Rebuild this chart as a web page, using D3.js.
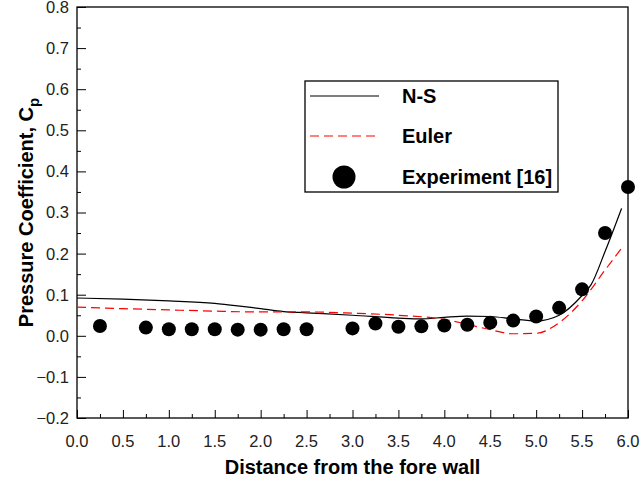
<!DOCTYPE html>
<html>
<head>
<meta charset="utf-8">
<script src="https://cdn.jsdelivr.net/npm/d3@7"></script>
<style>
  body { margin: 0; background: #fff; }
  svg text { font-family: "Liberation Sans", Arial, sans-serif; }
  .tick-label { font-size: 16.5px; fill: #222; }
  .axis-title { font-size: 20px; font-weight: bold; }
  .legend-text { font-size: 20px; font-weight: bold; }
</style>
</head>
<body>
<svg id="chart"></svg>
<script>
// N-S solution
const nsX = [0.0, 0.5, 1.0, 1.5, 1.75, 2.0, 2.25, 2.5, 3.0, 3.5, 3.75, 4.0, 4.25, 4.5, 4.75, 5.0, 5.25, 5.5, 5.6, 5.75, 5.93];
const nsY = [0.092, 0.089, 0.085, 0.079, 0.073, 0.066, 0.059, 0.056, 0.050, 0.043, 0.041, 0.045, 0.048, 0.047, 0.041, 0.036, 0.050, 0.098, 0.125, 0.205, 0.31];

// Euler solution
const eulerX = [0.0, 0.5, 1.0, 1.5, 2.0, 2.5, 3.0, 3.5, 4.0, 4.25, 4.5, 4.75, 5.0, 5.25, 5.5, 5.75, 5.93];
const eulerY = [0.070, 0.066, 0.063, 0.060, 0.058, 0.058, 0.055, 0.050, 0.040, 0.028, 0.015, 0.005, 0.006, 0.032, 0.085, 0.160, 0.213];

// Experiment [16]
const expX = [0.25, 0.75, 1.0, 1.25, 1.5, 1.75, 2.0, 2.25, 2.5, 3.0, 3.25, 3.5, 3.75, 4.0, 4.25, 4.5, 4.75, 5.0, 5.25, 5.5, 5.75, 6.0];
const expY = [0.024, 0.020, 0.016, 0.016, 0.016, 0.015, 0.015, 0.016, 0.016, 0.018, 0.030, 0.022, 0.023, 0.025, 0.027, 0.032, 0.037, 0.047, 0.068, 0.113, 0.250, 0.362];

const xTicks = [0, 0.5, 1, 1.5, 2, 2.5, 3, 3.5, 4, 4.5, 5, 5.5, 6];
const yTicks = [-0.2, -0.1, 0, 0.1, 0.2, 0.3, 0.4, 0.5, 0.6, 0.7, 0.8];

const legendNames = ["N-S", "Euler", "Experiment [16]"];

const config = {
  width: 642,
  height: 484,
  margin: {top: 7, right: 14, bottom: 66, left: 77}
};

const width = config.width - config.margin.left - config.margin.right;
const height = config.height - config.margin.top - config.margin.bottom;

const svg = d3.select('#chart')
  .attr('width', config.width)
  .attr('height', config.height);

const chart = svg.append('g')
  .attr('transform', `translate(${config.margin.left},${config.margin.top})`);

const xScale = d3.scaleLinear().domain([0, 6]).range([0, width]);
const yScale = d3.scaleLinear().domain([-0.2, 0.8]).range([height, 0]);

// plot frame
chart.append('rect')
  .attr('width', width)
  .attr('height', height)
  .attr('fill', 'none')
  .attr('stroke', '#000')
  .attr('stroke-width', 1.3);

// x axis: ticks pointing inside
const xAxisG = chart.append('g')
  .attr('transform', `translate(0,${height})`)
  .call(d3.axisTop(xScale).tickValues(d3.range(0, 6.01, 0.25)).tickSize(4).tickFormat(''));
xAxisG.selectAll('.tick line').filter(d => Math.abs(d * 2 - Math.round(d * 2)) < 1e-6).attr('y2', -8);
xAxisG.select('.domain').remove();

xAxisG.selectAll('.xlab')
  .data(xTicks)
  .join('text')
  .attr('class', 'tick-label')
  .attr('x', d => xScale(d))
  .attr('y', 29)
  .attr('text-anchor', 'middle')
  .text(d => d3.format('.1f')(d));

// y axis: ticks pointing inside
const yAxisG = chart.append('g')
  .call(d3.axisRight(yScale).tickValues(d3.range(-0.2, 0.801, 0.05)).tickSize(4).tickFormat(''));
yAxisG.selectAll('.tick line').filter(d => Math.abs(d * 10 - Math.round(d * 10)) < 1e-6).attr('x2', 9);
yAxisG.select('.domain').remove();

yAxisG.selectAll('.ylab')
  .data(yTicks)
  .join('text')
  .attr('class', 'tick-label')
  .attr('x', -8)
  .attr('y', d => yScale(d))
  .attr('dy', '0.36em')
  .attr('text-anchor', 'end')
  .text(d => d3.format('.1f')(d));

// axis titles
svg.append('text')
  .attr('class', 'axis-title')
  .attr('x', config.margin.left + width / 2)
  .attr('y', 474)
  .attr('text-anchor', 'middle')
  .text('Distance from the fore wall');

const yTitle = svg.append('text')
  .attr('class', 'axis-title')
  .attr('transform', `translate(33,${config.margin.top + yScale(0.3)}) rotate(-90)`)
  .attr('text-anchor', 'middle');
yTitle.append('tspan').text('Pressure Coefficient, C');
yTitle.append('tspan').attr('dy', 6).style('font-size', '15px').text('p');

// lines
const line = d3.line()
  .x(d => xScale(d[0]))
  .y(d => yScale(d[1]))
  .curve(d3.curveMonotoneX);

chart.append('path')
  .datum(d3.zip(nsX, nsY))
  .attr('d', line)
  .attr('fill', 'none')
  .attr('stroke', '#000')
  .attr('stroke-width', 1.2);

chart.append('path')
  .datum(d3.zip(eulerX, eulerY))
  .attr('d', line)
  .attr('fill', 'none')
  .attr('stroke', '#ff0000')
  .attr('stroke-width', 1.2)
  .attr('stroke-dasharray', '9,5');

chart.selectAll('.exp')
  .data(d3.zip(expX, expY))
  .join('circle')
  .attr('class', 'exp')
  .attr('cx', d => xScale(d[0]))
  .attr('cy', d => yScale(d[1]))
  .attr('r', 7)
  .attr('fill', '#000');

// legend
const legend = svg.append('g').attr('transform', 'translate(305,81)');
legend.append('rect')
  .attr('width', 253)
  .attr('height', 111)
  .attr('fill', '#fff')
  .attr('stroke', '#000')
  .attr('stroke-width', 1.3);

const rowY = [15, 55, 96];
legend.append('line')
  .attr('x1', 5).attr('x2', 74).attr('y1', rowY[0]).attr('y2', rowY[0])
  .attr('stroke', '#000').attr('stroke-width', 1.2);
legend.append('line')
  .attr('x1', 5).attr('x2', 74).attr('y1', rowY[1]).attr('y2', rowY[1])
  .attr('stroke', '#ff0000').attr('stroke-width', 1.2).attr('stroke-dasharray', '9,5');
legend.append('circle')
  .attr('cx', 39).attr('cy', rowY[2]).attr('r', 11.5).attr('fill', '#000');

legend.selectAll('.legend-text')
  .data(legendNames)
  .join('text')
  .attr('class', 'legend-text')
  .attr('x', 97)
  .attr('y', (d, i) => rowY[i])
  .attr('dy', '0.36em')
  .text(d => d);
</script>
</body>
</html>
